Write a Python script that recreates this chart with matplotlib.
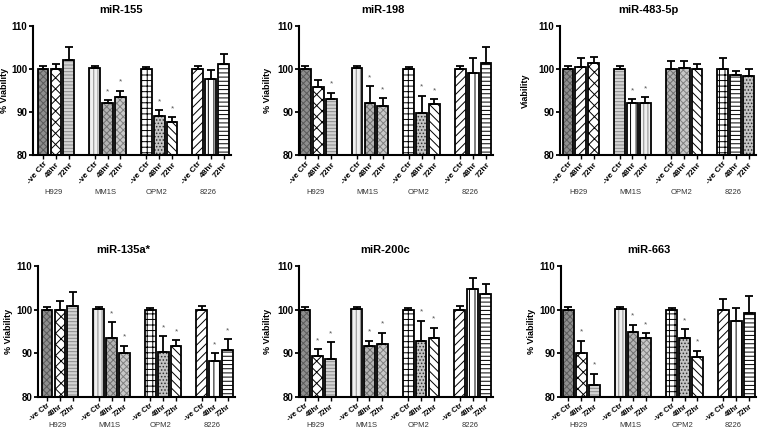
import numpy as np
import matplotlib
matplotlib.use('Agg')
import matplotlib.pyplot as plt
from matplotlib.transforms import blended_transform_factory

plt.rcParams['font.family'] = ['Liberation Sans', 'DejaVu Sans']
plt.rcParams['hatch.linewidth'] = 0.7

W, H = 758, 436

conditions = ['-ve Ctr', '48hr', '72hr']
cell_lines = ['H929', 'MM1S', 'OPM2', '8226']

titles = ['miR-155', 'miR-198', 'miR-483-5p', 'miR-135a*', 'miR-200c', 'miR-663']
ylabels = ['% Viability', '% Viability', 'Viability', '% Viability', '% Viability', '% Viability']

# mean viability, order: H929 (ctr,48,72), MM1S, OPM2, 8226
means_155 = [100.0, 100.0, 102.1, 100.2, 92.0, 93.6, 100.0, 89.1, 87.6, 100.0, 97.7, 101.1]
errs_155 = [0.7, 1.2, 3.0, 0.4, 0.7, 1.3, 0.4, 1.3, 1.2, 0.8, 2.0, 2.3]
sig_155 = [0, 0, 0, 0, 1, 1, 0, 1, 1, 0, 0, 0]

means_198 = [100.0, 95.9, 93.0, 100.2, 92.1, 91.5, 100.0, 89.8, 91.9, 100.0, 99.0, 101.3]
errs_198 = [0.8, 1.6, 1.5, 0.4, 3.9, 1.7, 0.4, 4.0, 1.1, 0.8, 3.5, 3.7]
sig_198 = [0, 0, 1, 0, 1, 1, 0, 1, 1, 0, 0, 0]

means_483 = [100.0, 100.5, 101.3, 100.0, 92.0, 92.2, 100.0, 100.3, 99.9, 100.0, 98.6, 98.4]
errs_483 = [0.8, 2.1, 1.5, 0.6, 1.0, 1.2, 1.8, 1.5, 1.3, 2.5, 0.9, 1.7]
sig_483 = [0, 0, 0, 0, 1, 1, 0, 0, 0, 0, 0, 0]

means_135 = [100.0, 99.9, 100.8, 100.2, 93.5, 90.1, 100.0, 90.4, 91.6, 100.0, 88.2, 90.7]
errs_135 = [0.7, 2.1, 3.3, 0.4, 3.6, 1.6, 0.4, 3.5, 1.4, 0.8, 1.8, 2.5]
sig_135 = [0, 0, 0, 0, 1, 1, 0, 1, 1, 0, 1, 1]

means_200 = [100.0, 89.4, 88.8, 100.2, 91.7, 92.2, 100.0, 92.8, 93.5, 100.0, 104.8, 103.6]
errs_200 = [0.7, 1.5, 3.7, 0.4, 1.1, 2.5, 0.4, 4.7, 2.4, 0.8, 2.5, 2.3]
sig_200 = [0, 1, 1, 0, 1, 1, 0, 1, 1, 0, 0, 0]

means_663 = [100.0, 90.1, 82.7, 100.2, 94.8, 93.4, 100.0, 93.5, 89.2, 100.0, 97.5, 99.3]
errs_663 = [0.7, 2.7, 2.6, 0.4, 1.7, 1.2, 0.4, 2.0, 1.4, 2.5, 2.9, 3.8]
sig_663 = [0, 1, 1, 0, 1, 1, 0, 1, 1, 0, 0, 0]

all_means = [means_155, means_198, means_483, means_135, means_200, means_663]
all_errs = [errs_155, errs_198, errs_483, errs_135, errs_200, errs_663]
all_sig = [sig_155, sig_198, sig_483, sig_135, sig_200, sig_663]

# fill patterns (face, hatch, hatch colour)
P_GREYX = ('#8e8e8e', 'xxxxx', '#5a5a5a')
P_CHECK = ('white', 'xxx', 'black')
P_LHORZ = ('#d4d4d4', '-----', '#8a8a8a')
P_LVERT = ('#f0f0f0', '||||', '#8a8a8a')
P_GREY1 = ('#b4b4b4', 'xxxxx', '#707070')
P_GREY2 = ('#c8c8c8', 'xxxxx', '#808080')
P_GRID = ('white', '+++', 'black')
P_DOTS = ('#c4c4c4', '.....', '#303030')
P_BACK = ('white', '\\\\\\\\', 'black')
P_FWD = ('white', '////', 'black')
P_VERT = ('white', '|||', 'black')
P_HORZ = ('white', '----', 'black')

std_patterns = [P_GREYX, P_CHECK, P_LHORZ, P_LVERT, P_GREY1, P_GREY2,
                P_GRID, P_DOTS, P_BACK, P_FWD, P_VERT, P_HORZ]
p483_patterns = [P_GREYX, P_FWD, P_CHECK, P_LHORZ, P_VERT, P_LVERT,
                 P_GREY1, P_GREY2, P_BACK, P_GRID, P_HORZ, P_DOTS]
patterns = [std_patterns, std_patterns, p483_patterns,
            std_patterns, std_patterns, std_patterns]

# layout in pixels: axis x, xlim left, axis top y, axis bottom y, title x, ylabel x
panels = [
    (33, -0.78, 26, 155, 121, 5),
    (299, -0.50, 26, 155, 383, 268),
    (560, -0.62, 26, 155, 648, 525),
    (38, -0.70, 266, 397, 123, 9),
    (299, -0.46, 266, 397, 385, 268),
    (561, -0.58, 266, 397, 649, 532),
]
unit = 12.9

x = np.array([g * 4 + j for g in range(4) for j in range(3)], dtype=float)

fig = plt.figure(figsize=(W / 100, H / 100), dpi=100)

for i in range(6):
    ax_x, xl, ytop, ybot, tx, lx = panels[i]
    xr = 14.55
    width_px = (xr - xl) * unit
    ax = fig.add_axes([ax_x / W, (H - ybot) / H, width_px / W, (ybot - ytop) / H])
    means = np.array(all_means[i])
    errs = np.array(all_errs[i])
    for k in range(12):
        face, hatch, hcol = patterns[i][k]
        ax.bar(x[k], means[k] - 80, bottom=80, width=0.84, color=face,
               hatch=hatch, edgecolor=hcol, linewidth=0, zorder=2)
        ax.bar(x[k], means[k] - 80, bottom=80, width=0.84, fill=False,
               edgecolor='black', linewidth=1.3, zorder=3)
    ax.errorbar(x, means, yerr=[np.zeros(12), errs], fmt='none', ecolor='black',
                elinewidth=1.3, capsize=3, capthick=1.3, zorder=4)
    for k in range(12):
        if all_sig[i][k]:
            ax.text(x[k], means[k] + errs[k] + 1.2, '*', ha='center', va='bottom',
                    fontsize=6, color='#555555', zorder=5)
    ax.set_xlim(xl, xr)
    ax.set_ylim(80, 110)
    ax.set_yticks([80, 90, 100, 110])
    ax.tick_params(axis='y', labelsize=7, width=1.3, length=3, pad=1)
    for lab in ax.get_yticklabels():
        lab.set_fontweight('bold')
    ax.set_xticks(x)
    rot = 50 if i < 3 else 38
    fs = 6 if i < 3 else 5.5
    ax.set_xticklabels(conditions * 4, rotation=rot, ha='right', rotation_mode='anchor',
                       fontsize=fs, fontweight='bold')
    ax.tick_params(axis='x', width=1.0, length=3, pad=1)
    for s in ['top', 'right']:
        ax.spines[s].set_visible(False)
    for s in ['left', 'bottom']:
        ax.spines[s].set_linewidth(1.5)
    ax.patch.set_alpha(0)

    trans = blended_transform_factory(ax.transData, ax.transAxes)
    gy = -37 / (ybot - ytop) if i < 3 else -28 / (ybot - ytop)
    for g, name in enumerate(cell_lines):
        ax.text(g * 4 + 0.8, gy, name, transform=trans, ha='center', va='center',
                fontsize=5.5, color='#333333')

    fig.text(tx / W, 1 - (ytop - 16) / H, titles[i], ha='center', va='center',
             fontsize=8, fontweight='bold')
    fig.text(lx / W, 1 - ((ytop + ybot) / 2) / H, ylabels[i], ha='center', va='center',
             rotation=90, fontsize=6.5, fontweight='bold')

fig.savefig('out.png', dpi=100)
